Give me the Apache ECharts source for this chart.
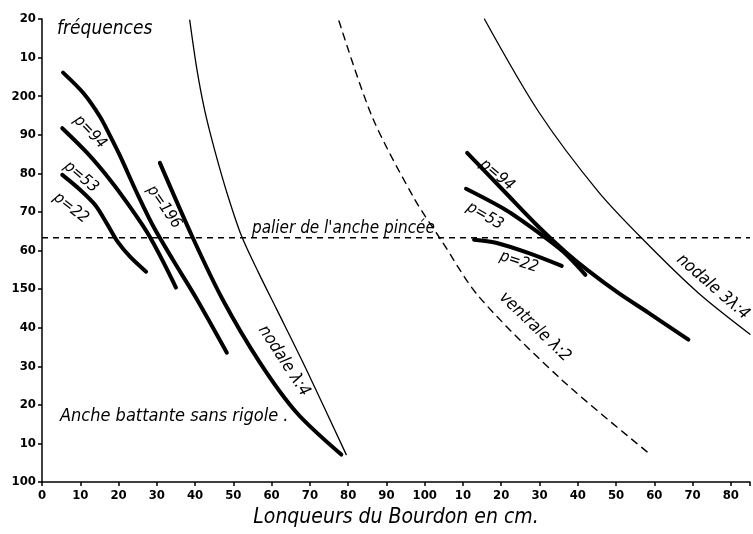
<!DOCTYPE html>
<html>
<head>
<meta charset="utf-8">
<script src="https://cdn.jsdelivr.net/npm/echarts@6/dist/echarts.min.js"></script>
<style>
  html, body { margin: 0; padding: 0; background: #fff; }
  #chart { width: 753px; height: 534px; }
</style>
</head>
<body>
<div id="chart"></div>
<script>
// tick labels as printed on the plate
const xTickLabels = ['0', '10', '20', '30', '40', '50', '60', '70', '80', '90', '100', '10', '20', '30', '40', '50', '60', '70', '80']
const yTickLabels = ['100', '10', '20', '30', '40', '150', '60', '70', '80', '90', '200', '10', '20']

// reed curves, left group (length cm, frequency)
const left94 = [[5.5, 206.1], [10.8, 200.8], [15.2, 194.6], [17.8, 189.7], [20.4, 184.5], [24.8, 174.9], [29.0, 166.4], [34.2, 157.6], [40.5, 147.3], [48.3, 133.5]]
const left53 = [[5.3, 191.7], [11.8, 185.3], [17.8, 178.3], [23.0, 171.3], [28.2, 163.5], [35.0, 150.4]]
const left22 = [[5.3, 179.6], [10.0, 175.7], [13.9, 171.8], [17.0, 166.9], [19.6, 162.5], [23.0, 158.4], [27.2, 154.5]]
const left196 = [[30.8, 182.7], [39.4, 163.3], [47.2, 147.3], [56.9, 131.0], [66.5, 118.0], [78.2, 107.1]]

// reed curves, right group
const right94 = [[111.1, 185.3], [121.2, 174.9], [129.8, 166.1], [136.8, 159.6], [142.8, 154.7], [150.6, 149.0], [158.4, 143.9], [168.9, 136.9]]
const right53 = [[110.8, 176.0], [121.2, 170.5], [129.8, 164.6], [136.3, 159.6], [142.0, 153.7]]
const right22 = [[112.9, 162.8], [118.6, 162.0], [127.2, 159.3], [135.8, 156.0]]

// pipe resonance curves
const nodale1 = [[38.6, 219.7], [40.5, 206.8], [42.5, 196.4], [45.1, 186.1], [48.5, 174.4], [52.2, 163.6], [56.6, 154.2], [61.3, 144.8], [69.1, 129.1], [79.5, 107.1]]
const ventrale = [[77.6, 219.5], [86.3, 194.6], [97.2, 173.6], [104.3, 162.7], [114.2, 148.0], [135.8, 126.5], [159.0, 107.1]]
const nodale3 = [[115.6, 220.0], [129.8, 195.9], [145.4, 175.2], [157.7, 162.2], [171.5, 149.0], [185, 138.3]]

// plateau of the pinched reed
const palier = 163.3
const palierLine = [[0, palier], [185, palier]]

const FONT = "'DejaVu Sans Condensed', 'DejaVu Sans', sans-serif"

const chart = echarts.init(document.getElementById('chart'))

function curve(data, width, dashed) {
  return {
    type: 'line',
    data: data,
    smooth: 0.3,
    showSymbol: false,
    silent: true,
    lineStyle: { color: '#000', width: width, type: dashed ? [7, 6] : 'solid', cap: 'round' }
  }
}

// rotated handwritten note, deg = clockwise angle
function note(text, x, y, deg, size) {
  return {
    type: 'text',
    x: x,
    y: y,
    rotation: -deg * Math.PI / 180,
    style: {
      text: text,
      fill: '#000',
      font: 'italic ' + size + 'px ' + FONT,
      align: 'center',
      verticalAlign: 'middle'
    }
  }
}

chart.setOption({
  animation: false,
  backgroundColor: '#fff',
  grid: { left: 42, right: 1, top: 19, bottom: 52 },
  xAxis: {
    type: 'value',
    min: 0,
    max: 185,
    interval: 10,
    name: 'Lonqueurs du Bourdon en cm.',
    nameLocation: 'middle',
    nameGap: 22,
    nameTextStyle: { fontFamily: FONT, fontStyle: 'italic', fontSize: 21, color: '#000' },
    axisLine: { lineStyle: { color: '#000', width: 1.5 } },
    axisTick: { length: 4, lineStyle: { color: '#000', width: 1.5 } },
    axisLabel: {
      color: '#000', fontFamily: FONT, fontWeight: 'bold', fontSize: 13, margin: 7,
      formatter: (v) => xTickLabels[Math.round(v / 10)] || ''
    },
    splitLine: { show: false }
  },
  yAxis: {
    type: 'value',
    min: 100,
    max: 220,
    interval: 10,
    axisLine: { show: true, lineStyle: { color: '#000', width: 1.5 } },
    axisTick: { show: true, length: 4, lineStyle: { color: '#000', width: 1.5 } },
    axisLabel: {
      color: '#000', fontFamily: FONT, fontWeight: 'bold', fontSize: 13, margin: 6,
      formatter: (v) => yTickLabels[Math.round((v - 100) / 10)] || ''
    },
    splitLine: { show: false }
  },
  series: [
    curve(left94, 4), curve(left53, 4), curve(left22, 4), curve(left196, 4),
    curve(right94, 4), curve(right53, 4), curve(right22, 4),
    curve(nodale1, 1.3), curve(nodale3, 1.3),
    curve(ventrale, 1.4, true),
    Object.assign(curve(palierLine, 1.5), { smooth: false, lineStyle: { color: '#000', width: 1.5, type: [6, 5] } })
  ],
  graphic: [
    { type: 'text', left: 57, top: 20, style: { text: 'fréquences', fill: '#000', font: 'italic 19px ' + FONT } },
    { type: 'text', left: 60, top: 407, style: { text: 'Anche battante sans rigole .', fill: '#000', font: 'italic 18px ' + FONT } },
    { type: 'text', left: 252, top: 220, style: { text: "palier de l'anche pincée", fill: '#000', font: 'italic 17px ' + FONT } },
    note('nodale λ:4', 284, 361, 57, 17),
    note('ventrale λ:2', 535, 327, 44, 17),
    note('nodale 3λ:4', 713, 287, 41, 17),
    note('p=94', 90, 132, 46, 16),
    note('p=53', 81, 177, 40, 16),
    note('p=22', 71, 208, 38, 16),
    note('p=196', 164, 207, 55, 16),
    note('p=94', 497, 175, 40, 16),
    note('p=53', 485, 216, 30, 16),
    note('p=22', 519, 262, 18, 16)
  ]
})
</script>
</body>
</html>
